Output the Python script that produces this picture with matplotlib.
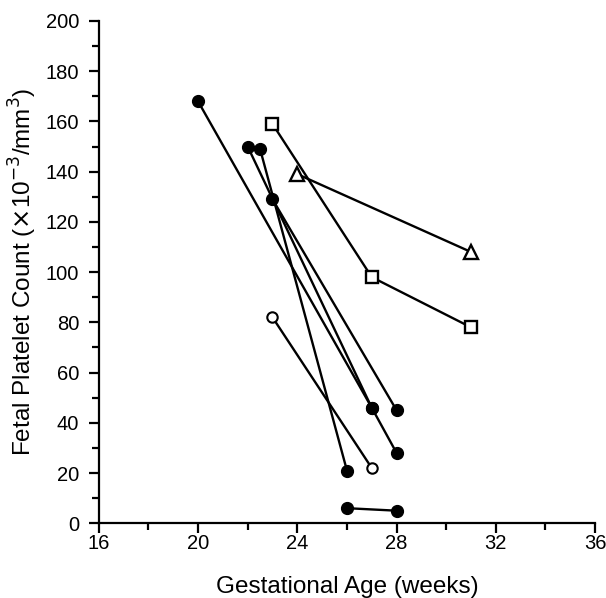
import matplotlib.pyplot as plt
from matplotlib.ticker import MultipleLocator

plt.rcParams['font.family'] = ['Liberation Sans', 'DejaVu Sans']

# each fetus: gestational age (weeks) and platelet count (x10^-3/mm^3)
filled_a_x = [20, 27]
filled_a_y = [168, 46]
filled_b_x = [22, 27, 28]
filled_b_y = [150, 46, 28]
filled_c_x = [22.5, 26]
filled_c_y = [149, 21]
filled_d_x = [23, 28]
filled_d_y = [129, 45]
filled_e_x = [26, 28]
filled_e_y = [6, 5]
open_x = [23, 27]
open_y = [82, 22]
square_x = [23, 27, 31]
square_y = [159, 98, 78]
triangle_x = [24, 31]
triangle_y = [139, 108]

fig = plt.figure(figsize=(6.06, 5.98), dpi=100)
ax = fig.add_axes([0.163, 0.125, 0.819, 0.84])

line_kw = dict(color='black', lw=1.7)
for xs, ys in [(filled_a_x, filled_a_y), (filled_b_x, filled_b_y),
               (filled_c_x, filled_c_y), (filled_d_x, filled_d_y),
               (filled_e_x, filled_e_y)]:
    ax.plot(xs, ys, marker='o', ms=8.5, mfc='black', mec='black', **line_kw)
ax.plot(open_x, open_y, marker='o', ms=7.5, mfc='white', mec='black', mew=1.5, **line_kw)
ax.plot(square_x, square_y, marker='s', ms=8, mfc='white', mec='black', mew=1.7, **line_kw)
ax.plot(triangle_x, triangle_y, marker='^', ms=10, mfc='white', mec='black', mew=1.7, **line_kw)

ax.set_xlim(16, 36)
ax.set_ylim(0, 200)
ax.xaxis.set_major_locator(MultipleLocator(4))
ax.xaxis.set_minor_locator(MultipleLocator(2))
ax.yaxis.set_major_locator(MultipleLocator(20))
ax.yaxis.set_minor_locator(MultipleLocator(10))

for s in ['top', 'right']:
    ax.spines[s].set_visible(False)
for s in ['left', 'bottom']:
    ax.spines[s].set_linewidth(1.6)

ax.tick_params(axis='both', which='major', length=7, width=1.6, labelsize=14.5)
ax.tick_params(axis='both', which='minor', length=5, width=1.6)
ax.tick_params(axis='y', which='major', pad=7)
ax.tick_params(axis='x', which='major', pad=1)

ax.set_xlabel('Gestational Age (weeks)', fontsize=17.5, labelpad=16)
ax.set_ylabel(r'Fetal Platelet Count ($\times$10$^{-3}$/mm$^3$)', fontsize=17.5, labelpad=5)

fig.savefig('out.png', dpi=100)
